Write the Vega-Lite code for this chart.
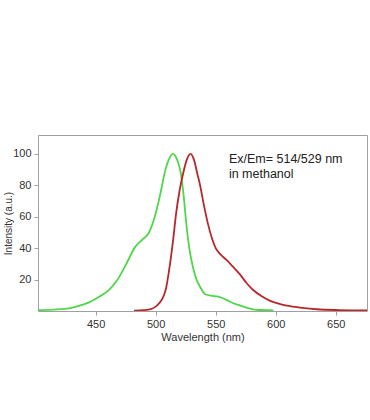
{
  "$schema": "https://vega.github.io/schema/vega-lite/v6.json",
  "width": 329,
  "height": 176,
  "autosize": {"type": "none"},
  "padding": {"left": 38, "top": 135, "right": 3, "bottom": 109},
  "background": "white",
  "config": {
    "view": {"stroke": "#a0a0a0", "strokeWidth": 1},
    "font": "Liberation Sans"
  },
  "datasets": {
    "spectra": [
      {"wl": 402, "i": 0.5, "s": "Excitation"},
      {"wl": 415, "i": 0.9, "s": "Excitation"},
      {"wl": 428, "i": 1.7, "s": "Excitation"},
      {"wl": 436, "i": 3.2, "s": "Excitation"},
      {"wl": 444, "i": 5.3, "s": "Excitation"},
      {"wl": 453, "i": 9.1, "s": "Excitation"},
      {"wl": 461, "i": 13.3, "s": "Excitation"},
      {"wl": 468, "i": 19.7, "s": "Excitation"},
      {"wl": 475, "i": 29.2, "s": "Excitation"},
      {"wl": 483, "i": 40.8, "s": "Excitation"},
      {"wl": 489, "i": 45.5, "s": "Excitation"},
      {"wl": 494, "i": 49.3, "s": "Excitation"},
      {"wl": 500, "i": 62, "s": "Excitation"},
      {"wl": 504, "i": 75, "s": "Excitation"},
      {"wl": 508, "i": 89.5, "s": "Excitation"},
      {"wl": 511, "i": 96.5, "s": "Excitation"},
      {"wl": 514.5, "i": 100, "s": "Excitation"},
      {"wl": 518, "i": 96, "s": "Excitation"},
      {"wl": 521, "i": 87.4, "s": "Excitation"},
      {"wl": 523.5, "i": 72, "s": "Excitation"},
      {"wl": 525.5, "i": 55.6, "s": "Excitation"},
      {"wl": 528, "i": 40, "s": "Excitation"},
      {"wl": 531, "i": 28, "s": "Excitation"},
      {"wl": 534, "i": 20, "s": "Excitation"},
      {"wl": 537, "i": 15.4, "s": "Excitation"},
      {"wl": 541, "i": 10.8, "s": "Excitation"},
      {"wl": 546, "i": 9.8, "s": "Excitation"},
      {"wl": 552, "i": 9.1, "s": "Excitation"},
      {"wl": 557, "i": 7.8, "s": "Excitation"},
      {"wl": 562, "i": 5.9, "s": "Excitation"},
      {"wl": 568, "i": 4, "s": "Excitation"},
      {"wl": 573, "i": 2.8, "s": "Excitation"},
      {"wl": 584, "i": 0.8, "s": "Excitation"},
      {"wl": 598, "i": 0.4, "s": "Excitation"},
      {"wl": 482, "i": 0.2, "s": "Emission"},
      {"wl": 490, "i": 0.5, "s": "Emission"},
      {"wl": 496, "i": 1.2, "s": "Emission"},
      {"wl": 500, "i": 2.8, "s": "Emission"},
      {"wl": 503, "i": 5, "s": "Emission"},
      {"wl": 506, "i": 8.5, "s": "Emission"},
      {"wl": 508.5, "i": 14, "s": "Emission"},
      {"wl": 511, "i": 25, "s": "Emission"},
      {"wl": 514.5, "i": 45, "s": "Emission"},
      {"wl": 517, "i": 62, "s": "Emission"},
      {"wl": 520, "i": 77, "s": "Emission"},
      {"wl": 523, "i": 88, "s": "Emission"},
      {"wl": 526, "i": 96.5, "s": "Emission"},
      {"wl": 529, "i": 100, "s": "Emission"},
      {"wl": 532, "i": 96, "s": "Emission"},
      {"wl": 534.5, "i": 88, "s": "Emission"},
      {"wl": 537, "i": 80, "s": "Emission"},
      {"wl": 540, "i": 68, "s": "Emission"},
      {"wl": 543.5, "i": 55.6, "s": "Emission"},
      {"wl": 547, "i": 46, "s": "Emission"},
      {"wl": 550, "i": 40, "s": "Emission"},
      {"wl": 554, "i": 36, "s": "Emission"},
      {"wl": 559, "i": 32.5, "s": "Emission"},
      {"wl": 564, "i": 28.5, "s": "Emission"},
      {"wl": 570, "i": 23.5, "s": "Emission"},
      {"wl": 576, "i": 17.5, "s": "Emission"},
      {"wl": 581, "i": 13.5, "s": "Emission"},
      {"wl": 588, "i": 9.5, "s": "Emission"},
      {"wl": 595, "i": 6.6, "s": "Emission"},
      {"wl": 603, "i": 4.6, "s": "Emission"},
      {"wl": 612, "i": 3.1, "s": "Emission"},
      {"wl": 622, "i": 2, "s": "Emission"},
      {"wl": 634, "i": 1.1, "s": "Emission"},
      {"wl": 653, "i": 0.6, "s": "Emission"},
      {"wl": 676, "i": 0.4, "s": "Emission"}
    ],
    "notes": [
      {"wl": 561, "i": 97, "t": "Ex/Em= 514/529 nm"},
      {"wl": 561, "i": 87.5, "t": "in methanol"}
    ]
  },
  "layer": [
    {
      "data": {"name": "spectra"},
      "mark": {"type": "line", "interpolate": "monotone", "strokeWidth": 1.8, "clip": true},
      "encoding": {
        "x": {
          "field": "wl", "type": "quantitative",
          "scale": {"domain": [402, 676], "nice": false, "zero": false},
          "axis": {
            "title": "Wavelength (nm)", "values": [450, 500, 550, 600, 650],
            "grid": false, "domain": false, "tickColor": "#a0a0a0", "tickSize": 4,
            "labelColor": "#333", "labelFontSize": 11, "labelPadding": 3,
            "titleFontWeight": "normal", "titleFontSize": 11, "titleColor": "#333", "titlePadding": 2
          }
        },
        "y": {
          "field": "i", "type": "quantitative",
          "scale": {"domain": [0, 112], "nice": false},
          "axis": {
            "title": "Intensity (a.u.)", "values": [20, 40, 60, 80, 100],
            "grid": false, "domain": false, "tickColor": "#a0a0a0", "tickSize": 4,
            "labelColor": "#333", "labelFontSize": 11, "labelPadding": 3,
            "titleFontWeight": "normal", "titleFontSize": 10, "titleColor": "#333",
            "titleAngle": -90, "titleX": -30, "titleY": 88, "titleAlign": "center", "titleBaseline": "middle"
          }
        },
        "color": {
          "field": "s", "type": "nominal",
          "scale": {"domain": ["Excitation", "Emission"], "range": ["#4fd64a", "#b8282a"]},
          "legend": null
        }
      }
    },
    {
      "data": {"name": "notes"},
      "mark": {"type": "text", "align": "left", "baseline": "middle", "fontSize": 12.5, "color": "#222"},
      "encoding": {
        "x": {"field": "wl", "type": "quantitative"},
        "y": {"field": "i", "type": "quantitative"},
        "text": {"field": "t"}
      }
    }
  ]
}
